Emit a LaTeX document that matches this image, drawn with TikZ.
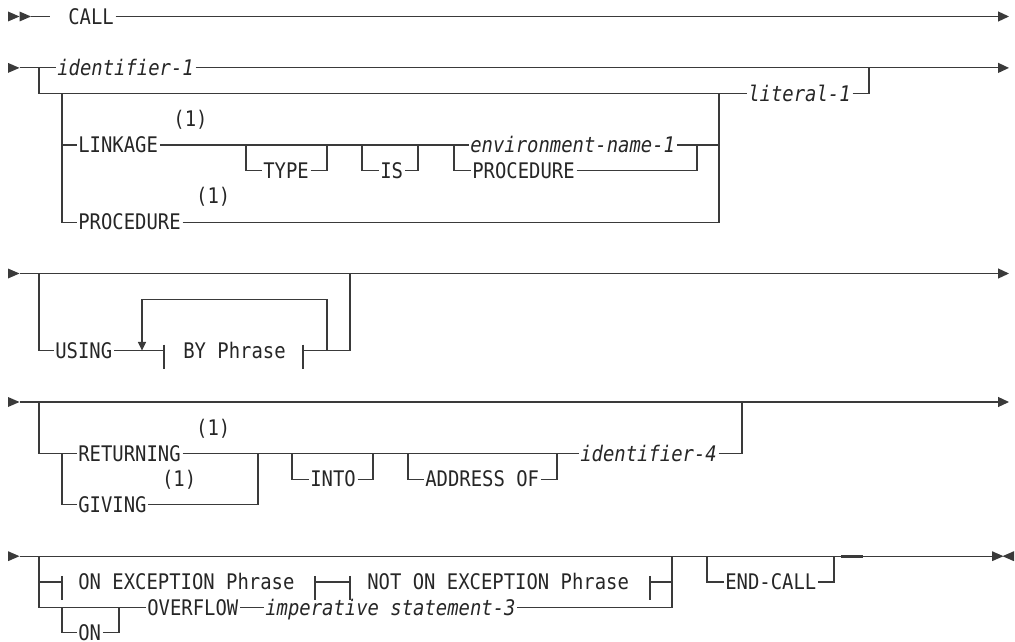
\documentclass[tikz,border=0pt]{standalone}
\usepackage{fontspec}
\usepackage{tikz}
\usetikzlibrary{positioning}
\usetikzlibrary{arrows.meta}
\newfontfamily\railfont[FakeStretch=0.88]{DejaVu Sans Mono}
\definecolor{railgray}{HTML}{3A3A3A}
\tikzset{
  rail/.style = {draw=railgray, line width=0.9pt},
  ahead/.style = {-{Triangle[length=8.25pt, width=7.5pt]}},
  loopup/.style = {-{Triangle[length=6.5pt, width=6pt]}},
  kw/.style = {anchor=west, inner xsep=1.2pt, inner ysep=0pt,
   text height=11.7pt, text depth=0pt, text=black!85,
   font=\railfont\fontsize{16.1}{19}\selectfont},
  var/.style = {kw, font=\railfont\itshape\fontsize{16.1}{19}\selectfont},
  note/.style = {inner sep=0pt, text height=11.7pt, text depth=0pt,
   text=black!85, font=\railfont\fontsize{16.1}{19}\selectfont},
  tri/.pic = {\fill[railgray] (0,-5) -- (11.5,0) -- (0,5) -- cycle;},
  bar/.pic = {\draw[rail] (0,-6) -- (0,18);},
}
\begin{document}
\begin{tikzpicture}[x=0.75pt, y=-0.75pt]
  \useasboundingbox (0,0) rectangle (1015,642);

  % CALL
  \pic at (8,16.5) {tri}; \pic at (19.5,16.5) {tri};
  \coordinate (a0) at (31,16.5); \coordinate (a1) at (50,16.5);
  \coordinate (a2) at (1009,16.5);
  \node[kw] (call) at (66.5,16.5) {CALL};
  \draw[rail] (a0) -- (a1);
  \draw[rail, ahead] (call.east) -- (a2);

  % identifier-1 / literal-1
  \pic at (8,67.9) {tri};
  \coordinate (b0) at (19.5,67.9); \coordinate (b1) at (39,67.9);
  \coordinate (b2) at (869,67.9); \coordinate (b3) at (1009,67.9);
  \coordinate (c2) at (62,93.6); \coordinate (c3) at (719,93.6);
  \coordinate (c4) at (719,145);
  \node[var] (id1) at (55.5,67.9) {identifier-1};
  \node[var] (lit1) at (746.5,93.6) {literal-1};
  \draw[rail] (b0) -- (id1.west);
  \draw[rail, ahead] (id1.east) -- (b3);
  \draw[rail] (b1) |- (lit1.west);
  \draw[rail] (lit1.east) -| (b2);

  \node[kw] (link) at (76.5,145) {LINKAGE};
  \node[note, above right=13.4pt and 10pt of link.east] {(1)};
  \node[kw] (type) at (261.5,170.7) {TYPE};
  \node[kw] (is) at (378.5,170.7) {IS};
  \node[var] (env) at (468.5,145) {environment-name-1};
  \node[kw] (proc2) at (470.5,170.7) {PROCEDURE};
  \node[kw] (proc1) at (76.5,222.1) {PROCEDURE};
  \node[note, above right=13.4pt and 10pt of proc1.east] {(1)};
  \coordinate (t1) at (246,145); \coordinate (t2) at (327,145);
  \coordinate (i1) at (362,145); \coordinate (i2) at (418,145);
  \coordinate (v1) at (454,145); \coordinate (v2) at (697,145);
  \draw[rail] (c2) |- (link.west);
  \draw[rail] (link.east) -- (env.west);
  \draw[rail] (env.east) -- (c4);
  \draw[rail] (t1) |- (type.west);
  \draw[rail] (type.east) -| (t2);
  \draw[rail] (i1) |- (is.west);
  \draw[rail] (is.east) -| (i2);
  \draw[rail] (v1) |- (proc2.west);
  \draw[rail] (proc2.east) -| (v2);
  \draw[rail] (c2) |- (proc1.west);
  \draw[rail] (proc1.east) -| (c3);

  % USING
  \pic at (8,273.5) {tri};
  \coordinate (d0) at (19.5,273.5); \coordinate (d1) at (39,273.5);
  \coordinate (d2) at (350,273.5); \coordinate (d3) at (1009,273.5);
  \coordinate (f1) at (164,350.6); \coordinate (f2) at (303,350.6);
  \coordinate (g1) at (327,350.6); \coordinate (g2) at (142,350.6);
  \coordinate (g3) at (142,299.2);
  \node[kw] (using) at (53.5,350.6) {USING};
  \node[kw] (by) at (181.5,350.6) {BY Phrase};
  \draw[rail, ahead] (d0) -- (d3);
  \draw[rail] (d1) |- (using.west);
  \draw[rail] (using.east) -- (f1);
  \draw[rail] (f2) -| (d2);
  \pic at (f1) {bar}; \pic at (f2) {bar};
  \draw[rail, loopup] (g1) |- (g3) -- (g2);

  % RETURNING / GIVING
  \pic at (8,402) {tri};
  \coordinate (h0) at (19.5,402); \coordinate (h1) at (39,402);
  \coordinate (h2) at (742,402); \coordinate (h3) at (1009,402);
  \coordinate (j1) at (62,453.4); \coordinate (j2) at (258,453.4);
  \coordinate (k1) at (292,453.4); \coordinate (k2) at (373,453.4);
  \coordinate (m1) at (408,453.4); \coordinate (m2) at (557,453.4);
  \node[kw] (ret) at (76.5,453.4) {RETURNING};
  \node[note, above right=13.4pt and 10pt of ret.east] {(1)};
  \node[kw] (giv) at (76.5,504.8) {GIVING};
  \node[note, above right=13.4pt and 10pt of giv.east] {(1)};
  \node[kw] (into) at (308.5,479.1) {INTO};
  \node[kw] (adr) at (423.5,479.1) {ADDRESS OF};
  \node[var] (id4) at (578.5,453.4) {identifier-4};
  \draw[rail, ahead] (h0) -- (h3);
  \draw[rail] (h1) |- (ret.west);
  \draw[rail] (ret.east) -- (id4.west);
  \draw[rail] (id4.east) -| (h2);
  \draw[rail] (j1) |- (giv.west);
  \draw[rail] (giv.east) -| (j2);
  \draw[rail] (k1) |- (into.west);
  \draw[rail] (into.east) -| (k2);
  \draw[rail] (m1) |- (adr.west);
  \draw[rail] (adr.east) -| (m2);

  % EXCEPTION / END-CALL
  \pic at (8,556.2) {tri};
  \coordinate (n0) at (19.5,556.2); \coordinate (n1) at (39,556.2);
  \coordinate (n2) at (672,556.2); \coordinate (n3) at (707,556.2);
  \coordinate (n4) at (834,556.2); \coordinate (n5) at (992,556.2);
  \coordinate (q0) at (39,581.9);
  \coordinate (p1) at (62,581.9); \coordinate (p2) at (315,581.9);
  \coordinate (p3) at (350,581.9); \coordinate (p4) at (650,581.9);
  \coordinate (p5) at (672,581.9);
  \coordinate (r1) at (62,607.6); \coordinate (r2) at (119,607.6);
  \coordinate (s1) at (841,556.2); \coordinate (s2) at (863,556.2);
  \node[kw] (onex) at (76.5,581.9) {ON EXCEPTION Phrase};
  \node[kw] (notex) at (365.5,581.9) {NOT ON EXCEPTION Phrase};
  \node[kw] (ovf) at (145.5,607.6) {OVERFLOW};
  \node[var] (imp) at (263.5,607.6) {imperative statement-3};
  \node[kw] (on) at (76.5,632.6) {ON};
  \node[kw] (endc) at (723.5,581.9) {END-CALL};
  \draw[rail] (n0) -- (n5);
  \draw[rail, line width=2.2pt] (s1) -- (s2);
  \pic at (n5) {tri}; \pic[xscale=-1] at (1014,556.2) {tri};
  \draw[rail] (q0) -- (p1);
  \draw[rail] (p2) -- (p3);
  \draw[rail] (p4) -- (p5);
  \pic at (p1) {bar}; \pic at (p2) {bar};
  \pic at (p3) {bar}; \pic at (p4) {bar};
  \draw[rail] (n1) |- (ovf.west);
  \draw[rail] (ovf.east) -- (imp.west);
  \draw[rail] (imp.east) -| (n2);
  \draw[rail] (r1) |- (on.west);
  \draw[rail] (on.east) -| (r2);
  \draw[rail] (n3) |- (endc.west);
  \draw[rail] (endc.east) -| (n4);
\end{tikzpicture}
\end{document}
